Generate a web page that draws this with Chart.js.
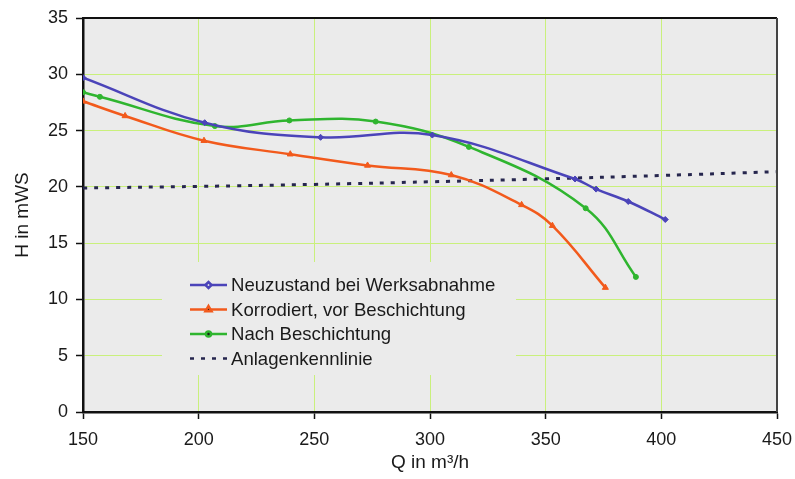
<!DOCTYPE html>
<html lang="de">
<head>
<meta charset="utf-8">
<title>Pumpenkennlinien</title>
<script src="https://cdn.jsdelivr.net/npm/chart.js@4/dist/chart.umd.min.js"></script>
<style>
  html, body { margin: 0; padding: 0; background: #fff; }
  #wrap { width: 795px; height: 479px; position: relative; }
</style>
</head>
<body>
<div id="wrap"><canvas id="kennlinien"></canvas></div>
<script>
// --- Daten ---
const neuQ = [150, 202.6, 252.7, 301, 362.7, 371.8, 385.7, 401.7];
const neuH = [29.7, 25.7, 24.4, 24.6, 20.7, 19.8, 18.7, 17.1];

const korrQ = [150, 168.2, 202.3, 239.6, 273, 309.2, 339.6, 352.9, 375.8];
const korrH = [27.6, 26.3, 24.1, 22.9, 21.9, 21.05, 18.4, 16.55, 11.05];

const nachQ = [150, 157.3, 207, 239.2, 276.5, 316.8, 367.3, 389];
const nachH = [28.4, 28.0, 25.4, 25.9, 25.8, 23.55, 18.1, 12.0];

const anlageQ = [150, 200, 250, 300, 350, 400, 450];
const anlageH = [19.9, 20.04, 20.22, 20.45, 20.71, 21.01, 21.35];

const labels = [
    'Neuzustand bei Werksabnahme',
    'Korrodiert, vor Beschichtung',
    'Nach Beschichtung',
    'Anlagenkennlinie'
];

const xTicks = [150, 200, 250, 300, 350, 400, 450];
const yTicks = [0, 5, 10, 15, 20, 25, 30, 35];

// Punkte {x, y} für Chart.js zusammenbauen
function toPoints(qs, hs) {
    return qs.map((q, i) => ({ x: q, y: hs[i] }));
}

const FONT = 'Liberation Sans, Arial, sans-serif';
const GRID_GREEN = '#c9f07c';
const PLOT_BG = '#ebebeb';

// Hintergrund der Zeichenfläche + Rahmen oben/rechts
const frame = {
    id: 'frame',
    beforeDraw(chart) {
        const { ctx, chartArea: a } = chart;
        ctx.save();
        ctx.fillStyle = '#fff';
        ctx.fillRect(0, 0, chart.width, chart.height);
        ctx.fillStyle = PLOT_BG;
        ctx.fillRect(a.left, a.top, a.right - a.left, a.bottom - a.top);
        ctx.restore();
    },
    afterDraw(chart) {
        const { ctx, chartArea: a } = chart;
        ctx.save();
        ctx.lineWidth = 2;
        ctx.strokeStyle = '#111';
        ctx.beginPath();
        ctx.moveTo(a.left, a.top);
        ctx.lineTo(a.right, a.top);
        ctx.stroke();
        ctx.strokeStyle = '#444';
        ctx.beginPath();
        ctx.moveTo(a.right, a.top);
        ctx.lineTo(a.right, a.bottom);
        ctx.stroke();
        ctx.restore();
    }
};

// Legende innerhalb der Zeichenfläche (deckt das Gitter ab)
const innerLegend = {
    id: 'innerLegend',
    beforeDatasetsDraw(chart) {
        const { ctx } = chart;
        const box = { x: 162, y: 262, w: 354, h: 113 };
        const rowY = [285, 309.5, 334, 358.5];
        ctx.save();
        ctx.fillStyle = PLOT_BG;
        ctx.fillRect(box.x, box.y, box.w, box.h);
        chart.data.datasets.forEach((ds, i) => {
            const y = rowY[i];
            ctx.strokeStyle = ds.borderColor;
            ctx.lineWidth = 2.5;
            ctx.setLineDash(ds.borderDash || []);
            ctx.beginPath();
            ctx.moveTo(190, y);
            ctx.lineTo(227, y);
            ctx.stroke();
            ctx.setLineDash([]);
            if (ds.pointStyle) {
                Chart.helpers.drawPoint(ctx, {
                    pointStyle: ds.pointStyle,
                    radius: ds.pointRadius,
                    borderWidth: 1
                }, 208.5, y);
            }
            ctx.fillStyle = '#1a1a1a';
            ctx.font = '18.6px ' + FONT;
            ctx.textBaseline = 'middle';
            ctx.textAlign = 'left';
            ctx.fillText(ds.label, 231, y + 1);
        });
        ctx.restore();
    }
};

function initializeChart() {
    const ctx = document.getElementById('kennlinien').getContext('2d');
    const lineBase = {
        borderWidth: 2.5,
        tension: 0.4,
        fill: false,
        pointBorderWidth: 1,
        pointHoverRadius: 0
    };
    return new Chart(ctx, {
        type: 'line',
        data: {
            datasets: [{
                ...lineBase,
                label: labels[0],
                data: toPoints(neuQ, neuH),
                borderColor: '#4b44b9',
                backgroundColor: '#4b44b9',
                pointStyle: 'rectRot',
                pointRadius: 3
            }, {
                ...lineBase,
                label: labels[1],
                data: toPoints(korrQ, korrH),
                borderColor: '#f25a1c',
                backgroundColor: '#f25a1c',
                pointStyle: 'triangle',
                pointRadius: 3.5
            }, {
                ...lineBase,
                label: labels[2],
                data: toPoints(nachQ, nachH),
                borderColor: '#2fb52f',
                backgroundColor: '#2fb52f',
                pointStyle: 'circle',
                pointRadius: 2.5
            }, {
                ...lineBase,
                label: labels[3],
                data: toPoints(anlageQ, anlageH),
                borderColor: '#26264e',
                backgroundColor: '#26264e',
                borderWidth: 3,
                borderDash: [4, 7],
                pointStyle: false,
                pointRadius: 0
            }]
        },
        options: {
            responsive: true,
            maintainAspectRatio: false,
            animation: false,
            layout: { padding: { top: 18, right: 18, left: 0, bottom: 0 } },
            plugins: {
                legend: { display: false },
                tooltip: { enabled: false }
            },
            scales: {
                x: {
                    type: 'linear',
                    min: xTicks[0],
                    max: xTicks[xTicks.length - 1],
                    afterBuildTicks: s => { s.ticks = xTicks.map(v => ({ value: v })); },
                    afterFit: s => { s.height = 67; s.paddingLeft = 0; s.paddingRight = 0; },
                    ticks: { color: '#1a1a1a', font: { size: 18, family: FONT }, padding: 10, maxRotation: 0 },
                    grid: { color: GRID_GREEN, lineWidth: 1, tickColor: '#111', tickLength: 7, tickWidth: 1.5 },
                    border: { color: '#111', width: 2.5 },
                    title: { display: true, text: 'Q in m³/h', color: '#1a1a1a',
                             font: { size: 19, family: FONT }, padding: { top: 0, bottom: 5 } }
                },
                y: {
                    min: yTicks[0],
                    max: yTicks[yTicks.length - 1],
                    afterBuildTicks: s => { s.ticks = yTicks.map(v => ({ value: v })); },
                    afterFit: s => { s.width = 83; s.paddingTop = 0; s.paddingBottom = 0; },
                    ticks: { color: '#1a1a1a', font: { size: 18, family: FONT }, padding: 8 },
                    grid: { color: GRID_GREEN, lineWidth: 1, tickColor: '#111', tickLength: 7, tickWidth: 1.5 },
                    border: { color: '#111', width: 2.5 },
                    title: { display: true, text: 'H in mWS', color: '#1a1a1a',
                             font: { size: 19, family: FONT }, padding: { top: 11, bottom: 0 } }
                }
            }
        },
        plugins: [frame, innerLegend]
    });
}

initializeChart();
</script>
</body>
</html>
